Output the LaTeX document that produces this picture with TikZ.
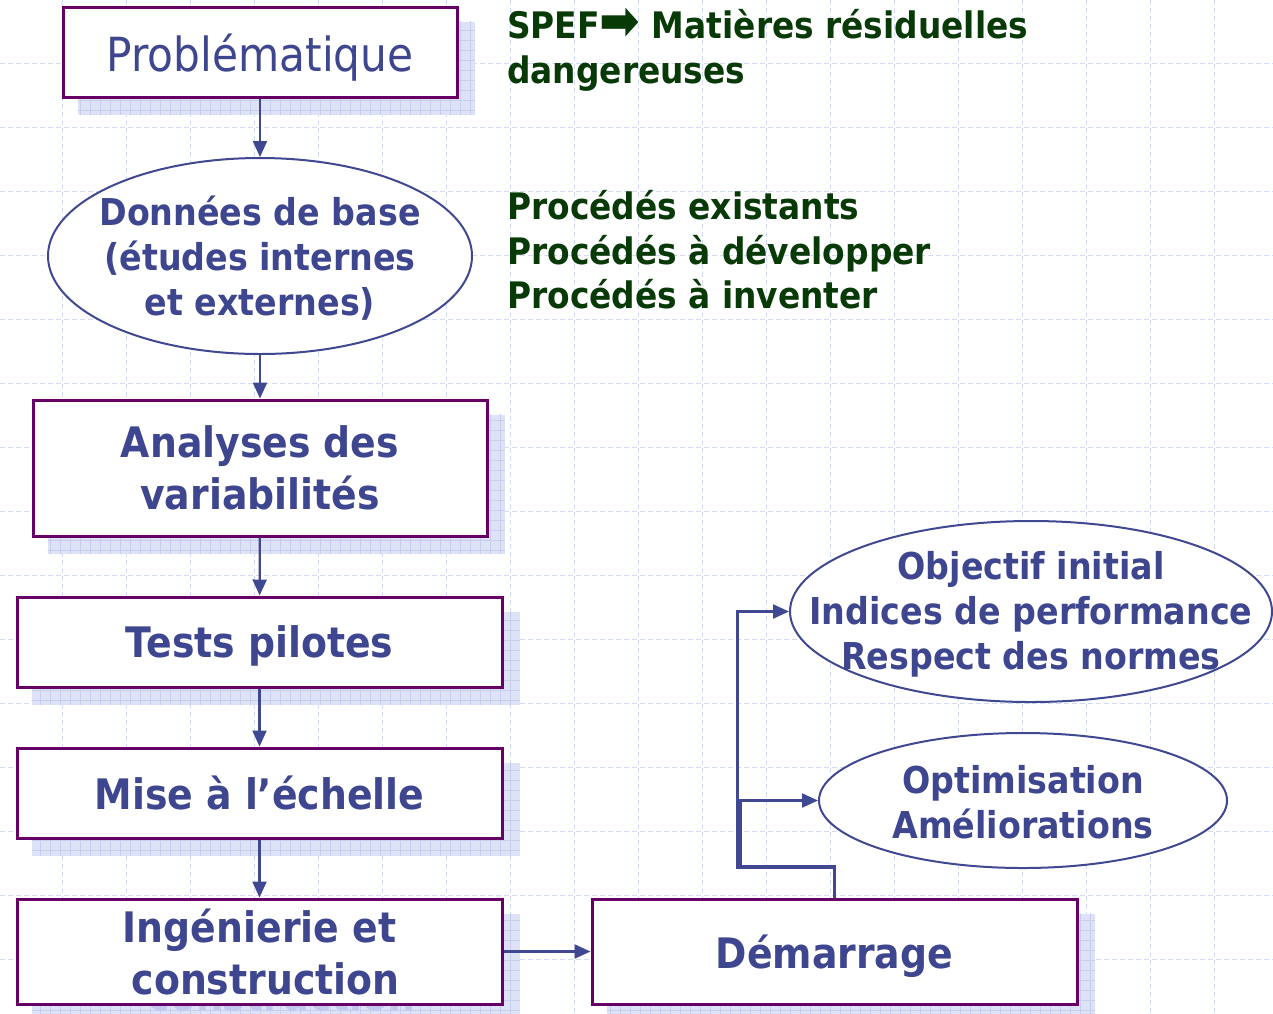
\documentclass[tikz,border=0pt]{standalone}
\usepackage{fontspec}
\usetikzlibrary{shapes.geometric,arrows.meta}
\newfontfamily\tah[FakeStretch=0.9]{DejaVu Sans}
\definecolor{txtblue}{RGB}{62,70,143}
\definecolor{lnblue}{RGB}{64,72,145}
\definecolor{boxpurple}{RGB}{102,0,102}
\definecolor{leafgreen}{RGB}{8,58,8}
\definecolor{gridc}{RGB}{212,220,245}
\definecolor{shadefill}{RGB}{222,226,246}
\definecolor{shadeline}{RGB}{200,206,238}
\definecolor{ghostc}{RGB}{192,200,238}
\pgfdeclarelayer{bg}
\pgfsetlayers{bg,main}
% lower a line of text without changing its box
\newcommand\lowered[2]{\raisebox{-#1}[\height][\depth]{#2}}
% soft gridded shadow, offset down-right, behind a named box
\newcommand\castshadow[1]{%
  \begin{pgfonlayer}{bg}
    \path[fill=shadefill] ([shift={(16pt,-16pt)}]#1.south west) rectangle ([shift={(16pt,-16pt)}]#1.north east);
    \begin{scope}
      \clip ([shift={(16pt,-16pt)}]#1.south west) rectangle ([shift={(16pt,-16pt)}]#1.north east);
      \foreach \k in {0,10,...,1280} \draw[shadeline,line width=0.7pt] (\k,0) -- (\k,1030);
      \foreach \k in {0,10,...,1030} \draw[shadeline,line width=0.7pt] (0,\k) -- (1280,\k);
    \end{scope}
  \end{pgfonlayer}}
\begin{document}
\begin{tikzpicture}[x=1pt,y=-1pt,
  box/.style={draw=boxpurple, line width=3pt, fill=white, text=txtblue,
    align=center, inner sep=0pt, font=\tah\bfseries\fontsize{42}{52}\selectfont},
  oval/.style={ellipse, draw=lnblue, line width=2pt, fill=white, inner sep=0pt},
  ovaltext/.style={text=txtblue, align=center, inner sep=0pt,
    font=\tah\bfseries\fontsize{37}{45}\selectfont},
  conn/.style={draw=lnblue, line width=2.2pt, -{Triangle[length=16pt,width=14pt]}},
  note/.style={text=leafgreen, align=left, inner sep=0pt, anchor=west,
    font=\tah\bfseries\fontsize{36.5}{44.5}\selectfont},
  gridline/.style={draw=gridc, line width=1pt, dash pattern=on 5pt off 3pt}]
\useasboundingbox (0,0) rectangle (1273,1013);

% page background with dashed grid
\begin{pgfonlayer}{bg}
  \fill[white] (0,0) rectangle (1273,1013);
  \foreach \gx in {62,126,...,1214} \draw[gridline] (\gx,0) -- (\gx,1013);
  \foreach \gy in {63,127,...,1000} \draw[gridline] (0,\gy) -- (1273,\gy);
\end{pgfonlayer}

% main chain of steps
\node[box, minimum width=394pt, minimum height=90pt,
  font=\tah\fontsize{47}{56}\selectfont] (prob) at (260,52) {\lowered{6pt}{Problématique}};
\node[oval, minimum width=424pt, minimum height=196pt] (donnees) at (260,256) {};
\node[ovaltext] (donneestext) at (260,258.5) {Données de base\\(études internes\\et externes)};
\node[box, minimum width=454pt, minimum height=136pt] (anal) at (260,468)
  {Analyses des\\variabilités};
\node[box, minimum width=485pt, minimum height=90pt] (tests) at (259.5,642)
  {\lowered{4pt}{Tests pilotes}};
\node[box, minimum width=485pt, minimum height=90pt] (mise) at (259.5,793)
  {Mise à l’échelle};
\node[box, minimum width=485pt, minimum height=105pt] (ing) at (259.5,951.5)
  {Ingénierie et\\\hspace*{12pt}construction};
\node[box, minimum width=485pt, minimum height=105pt] (dem) at (834.5,951.5)
  {\lowered{5pt}{Démarrage}};

% follow-up ovals
\node[oval, minimum width=482pt, minimum height=181pt] (obj) at (1031,611.5) {};
\node[ovaltext] (objtext) at (1031,614) {Objectif initial\\Indices de performance\\Respect des normes};
\node[oval, minimum width=408pt, minimum height=135pt] (optim) at (1023,800.5) {};
\node[ovaltext] (optimtext) at (1023,802.5) {Optimisation\\Améliorations};

% side notes
\node[note] (spef) at (507,50.5) {SPEF\smash{\lowered{1pt}{\fontsize{54}{44}\selectfont ➡}} Matières résiduelles\\dangereuses};
\node[note] (procedes) at (507,250) {Procédés existants\\Procédés à développer\\Procédés à inventer};

% shadows
\castshadow{prob}
\castshadow{anal}
\castshadow{tests}
\castshadow{mise}
\castshadow{ing}
\castshadow{dem}
\begin{pgfonlayer}{bg}
  \node[text=ghostc, align=center, inner sep=0pt,
    font=\tah\bfseries\fontsize{42}{52}\selectfont] (ingghost)
    at ([shift={(16pt,-16pt)}]ing.center) {\phantom{Ingénierie et}\\\hspace*{12pt}construction};
\end{pgfonlayer}

% connectors
\draw[conn] (prob) -- (donnees);
\draw[conn] (donnees) -- (anal);
\draw[conn] (anal) -- (tests);
\draw[conn] (tests) -- (mise);
\draw[conn] (mise) -- (ing);
\draw[conn] (ing) -- (dem);

\coordinate (j1) at (737.5,868);
\coordinate (j2) at (740.5,866);
\draw[conn] (dem.north) |- (j1) |- (obj.west);
\draw[conn] (dem.north) |- (j2) |- (optim.west);
\end{tikzpicture}
\end{document}
